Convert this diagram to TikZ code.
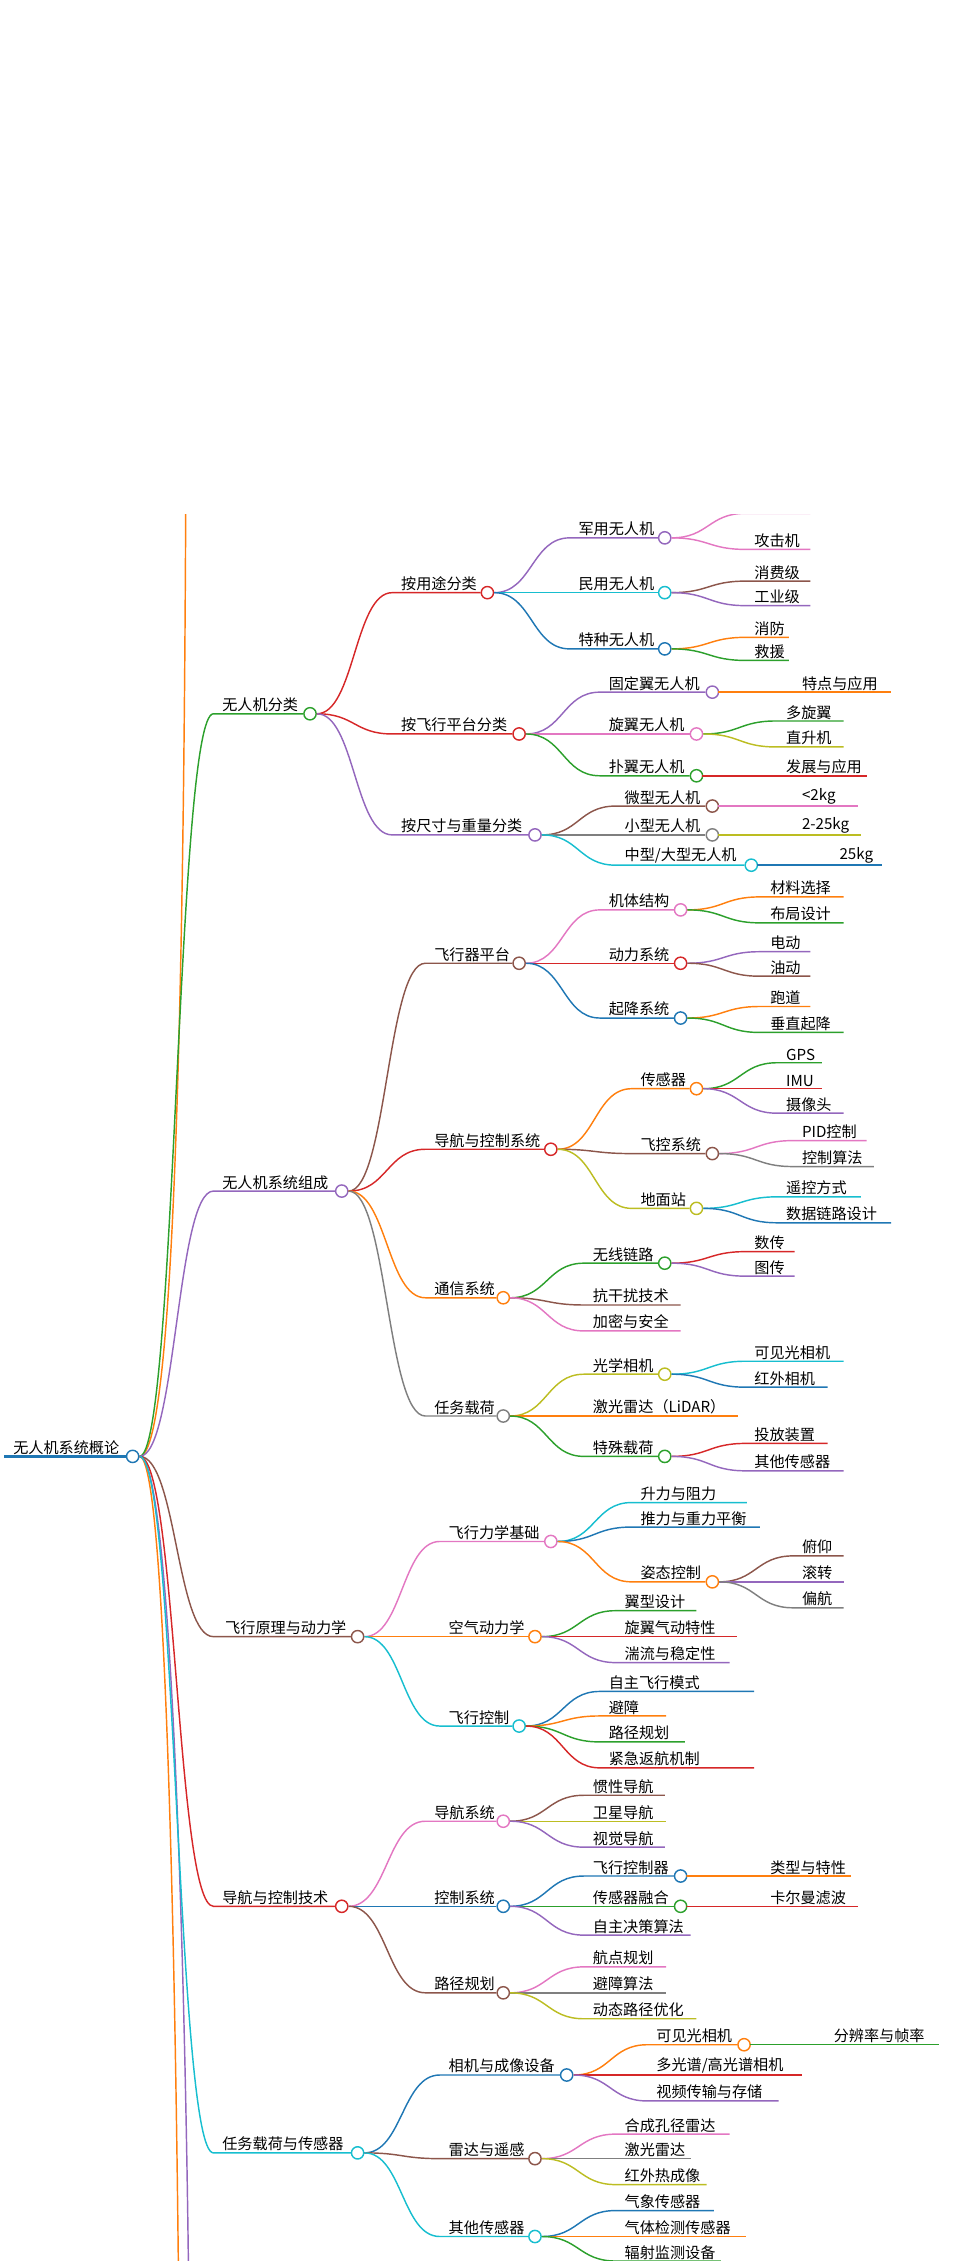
\documentclass[tikz,border=0pt]{standalone}
\usepackage{fontspec}
\setmainfont{Noto Sans CJK SC}
\usepackage{tikz}
\usetikzlibrary{positioning,calc}

\definecolor{cblue}{HTML}{1F77B4}
\definecolor{corange}{HTML}{FF7F0E}
\definecolor{cgreen}{HTML}{2CA02C}
\definecolor{cred}{HTML}{D62728}
\definecolor{cpurple}{HTML}{9467BD}
\definecolor{cbrown}{HTML}{8C564B}
\definecolor{cpink}{HTML}{E377C2}
\definecolor{cgray}{HTML}{7F7F7F}
\definecolor{colive}{HTML}{BCBD22}
\definecolor{ccyan}{HTML}{17BECF}

\tikzset{
  mmdot/.style={circle, draw=#1, fill=white, line width=1pt, minimum size=8.5pt, inner sep=0pt},
  mmedge/.style={draw=#1, line width=1pt},
  mmtext/.style={anchor=south west, inner sep=1pt, font=\fontsize{10.5}{12}\selectfont}
}

% name, parent, colour, line start, text x, line end, y, text
\newcommand\mmnode[8]{%
  \coordinate (#1-s) at (#4,-#7);
  \node[mmdot=#3] (#1) at (#6,-#7) {};
  \node[mmtext] (#1-t) at (#5,-#7) {#8};
  \draw[mmedge=#3] let \p1=(#2.east), \p2=(#1-s) in
    (\p1) .. controls ({(\x1+\x2)/2},\y1) and ({(\x1+\x2)/2},\y2) .. (\p2) -- (#1.west);
}
\newcommand\mmleaf[8]{%
  \coordinate (#1-s) at (#4,-#7);
  \coordinate (#1) at (#6,-#7);
  \node[mmtext] (#1-t) at (#5,-#7) {#8};
  \draw[mmedge=#3] let \p1=(#2.east), \p2=(#1-s) in
    (\p1) .. controls ({(\x1+\x2)/2},\y1) and ({(\x1+\x2)/2},\y2) .. (\p2) -- (#1);
}

\begin{document}
\begin{tikzpicture}[x=1pt, y=1pt]
  \useasboundingbox (0,0) rectangle (664,-1568);
  \clip (0,-357) rectangle (664,-1568);

  % root
  \coordinate (root-s) at (3,-1010);
  \node[mmdot=cblue] (root) at (92,-1010) {};
  \node[mmtext] (root-t) at (8,-1010) {无人机系统概论};
  \draw[mmedge=cblue, line width=2pt] (root-s) -- (root.west);

  % branches running out of the picture
  \draw[mmedge=corange] (root.east) .. controls (124,-1010) and (128,-600) .. (129,-300);
  \draw[mmedge=corange] (root.east) .. controls (116,-1010) and (122,-1400) .. (124,-1600);
  \draw[mmedge=cpurple] (root.east) .. controls (120,-1010) and (129,-1400) .. (131,-1600);

  % level 1
  \mmnode{cls}{root}{cgreen}{148}{153}{215}{495}{无人机分类}
  \mmnode{sys}{root}{cpurple}{148}{153}{237}{826}{无人机系统组成}
  \mmnode{phy}{root}{cbrown}{148}{155}{248}{1135}{飞行原理与动力学}
  \mmnode{nav}{root}{cred}{148}{153}{237}{1322}{导航与控制技术}
  \mmnode{pay}{root}{ccyan}{148}{153}{248}{1493}{任务载荷与传感器}

  % 无人机分类
  \mmnode{use}{cls}{cred}{272}{277}{338}{411}{按用途分类}
  \mmnode{plat}{cls}{cred}{272}{277}{360}{509}{按飞行平台分类}
  \mmnode{size}{cls}{cpurple}{272}{277}{371}{579}{按尺寸与重量分类}

  \mmnode{mil}{use}{cpurple}{395}{400}{461}{373}{军用无人机}
  \mmnode{civ}{use}{ccyan}{395}{400}{461}{411}{民用无人机}
  \mmnode{spec}{use}{cblue}{395}{400}{461}{450}{特种无人机}
  \mmleaf{mil1}{mil}{cpink}{517}{522}{562}{356}{侦察机}
  \mmleaf{mil2}{mil}{cpink}{517}{522}{562}{381}{攻击机}
  \mmleaf{civ1}{civ}{cbrown}{517}{522}{562}{403}{消费级}
  \mmleaf{civ2}{civ}{cpurple}{517}{522}{562}{420}{工业级}
  \mmleaf{spec1}{spec}{corange}{517}{522}{547}{442}{消防}
  \mmleaf{spec2}{spec}{cgreen}{517}{522}{547}{458}{救援}

  \mmnode{fix}{plat}{cpurple}{416}{421}{494}{480}{固定翼无人机}
  \mmnode{rot}{plat}{cpink}{416}{421}{483}{509}{旋翼无人机}
  \mmnode{flap}{plat}{cgreen}{416}{421}{483}{538}{扑翼无人机}
  \mmleaf{fix1}{fix}{corange}{498}{555}{618}{480}{特点与应用}
  \mmleaf{rot1}{rot}{cgreen}{538}{544}{585}{500}{多旋翼}
  \mmleaf{rot2}{rot}{colive}{538}{544}{585}{518}{直升机}
  \mmleaf{flap1}{flap}{cred}{487}{544}{601}{538}{发展与应用}

  \mmnode{micro}{size}{cbrown}{427}{432}{494}{559}{微型无人机}
  \mmnode{small}{size}{cgray}{427}{432}{494}{579}{小型无人机}
  \mmnode{big}{size}{ccyan}{427}{432}{521}{600}{中型/大型无人机}
  \mmleaf{micro1}{micro}{cpink}{498}{555}{595}{559}{<2kg}
  \mmleaf{small1}{small}{colive}{498}{555}{597}{579}{2-25kg}
  \mmleaf{big1}{big}{cblue}{525}{581}{612}{600}{25kg}

  % 无人机系统组成
  \mmnode{frame}{sys}{cbrown}{295}{300}{360}{668}{飞行器平台}
  \mmnode{nc}{sys}{cred}{295}{300}{382}{797}{导航与控制系统}
  \mmnode{com}{sys}{corange}{295}{300}{349}{900}{通信系统}
  \mmnode{load}{sys}{cgray}{295}{300}{349}{982}{任务载荷}

  \mmnode{body}{frame}{cpink}{416}{421}{472}{631}{机体结构}
  \mmnode{power}{frame}{cred}{416}{421}{472}{668}{动力系统}
  \mmnode{land}{frame}{cblue}{416}{421}{472}{706}{起降系统}
  \mmleaf{body1}{body}{corange}{527}{533}{585}{622}{材料选择}
  \mmleaf{body2}{body}{cgreen}{527}{533}{585}{640}{布局设计}
  \mmleaf{power1}{power}{cpurple}{527}{533}{562}{660}{电动}
  \mmleaf{power2}{power}{cbrown}{527}{533}{562}{677}{油动}
  \mmleaf{land1}{land}{corange}{527}{533}{562}{698}{跑道}
  \mmleaf{land2}{land}{cgreen}{527}{533}{585}{716}{垂直起降}

  \mmnode{sen}{nc}{corange}{438}{443}{483}{755}{传感器}
  \mmnode{fc}{nc}{cbrown}{438}{443}{494}{800}{飞控系统}
  \mmnode{gs}{nc}{colive}{438}{443}{483}{838}{地面站}
  \mmleaf{sen1}{sen}{cgreen}{539}{544}{570}{737}{GPS}
  \mmleaf{sen2}{sen}{cred}{539}{544}{570}{755}{IMU}
  \mmleaf{sen3}{sen}{cpurple}{539}{544}{585}{772}{摄像头}
  \mmleaf{fc1}{fc}{cpink}{550}{555}{601}{791}{PID控制}
  \mmleaf{fc2}{fc}{cgray}{550}{555}{606}{809}{控制算法}
  \mmleaf{gs1}{gs}{ccyan}{539}{544}{597}{830}{遥控方式}
  \mmleaf{gs2}{gs}{cblue}{539}{544}{618}{848}{数据链路设计}

  \mmnode{wl}{com}{cgreen}{405}{410}{461}{876}{无线链路}
  \mmleaf{com2}{com}{cbrown}{405}{410}{472}{905}{抗干扰技术}
  \mmleaf{com3}{com}{cpink}{405}{410}{472}{923}{加密与安全}
  \mmleaf{wl1}{wl}{cred}{517}{522}{551}{868}{数传}
  \mmleaf{wl2}{wl}{cpurple}{517}{522}{551}{885}{图传}

  \mmnode{opt}{load}{colive}{405}{410}{461}{953}{光学相机}
  \mmleaf{lidar}{load}{corange}{405}{410}{512}{982}{激光雷达（LiDAR）}
  \mmnode{spl}{load}{cgreen}{405}{410}{461}{1010}{特殊载荷}
  \mmleaf{opt1}{opt}{ccyan}{517}{522}{585}{944}{可见光相机}
  \mmleaf{opt2}{opt}{cblue}{517}{522}{574}{962}{红外相机}
  \mmleaf{spl1}{spl}{cred}{517}{522}{574}{1001}{投放装置}
  \mmleaf{spl2}{spl}{cpurple}{517}{522}{585}{1020}{其他传感器}

  % 飞行原理与动力学
  \mmnode{mech}{phy}{cpink}{305}{310}{382}{1069}{飞行力学基础}
  \mmnode{aero}{phy}{corange}{305}{310}{371}{1135}{空气动力学}
  \mmnode{ctl}{phy}{ccyan}{305}{310}{360}{1197}{飞行控制}

  \mmleaf{mech1}{mech}{ccyan}{438}{443}{518}{1042}{升力与阻力}
  \mmleaf{mech2}{mech}{cblue}{438}{443}{527}{1059}{推力与重力平衡}
  \mmnode{att}{mech}{corange}{438}{443}{494}{1097}{姿态控制}
  \mmleaf{att1}{att}{cbrown}{550}{555}{585}{1079}{俯仰}
  \mmleaf{att2}{att}{cpurple}{550}{555}{585}{1097}{滚转}
  \mmleaf{att3}{att}{cgray}{550}{555}{585}{1115}{偏航}

  \mmleaf{aero1}{aero}{cgreen}{427}{432}{483}{1117}{翼型设计}
  \mmleaf{aero2}{aero}{cred}{427}{432}{511}{1135}{旋翼气动特性}
  \mmleaf{aero3}{aero}{cpurple}{427}{432}{506}{1153}{湍流与稳定性}

  \mmleaf{ctl1}{ctl}{cblue}{416}{421}{523}{1173}{自主飞行模式}
  \mmleaf{ctl2}{ctl}{corange}{416}{421}{462}{1190}{避障}
  \mmleaf{ctl3}{ctl}{cgreen}{416}{421}{475}{1208}{路径规划}
  \mmleaf{ctl4}{ctl}{cred}{416}{421}{523}{1226}{紧急返航机制}

  % 导航与控制技术
  \mmnode{navs}{nav}{cpink}{295}{300}{349}{1263}{导航系统}
  \mmnode{ctrl}{nav}{cblue}{295}{300}{349}{1322}{控制系统}
  \mmnode{path}{nav}{cbrown}{295}{300}{349}{1382}{路径规划}

  \mmleaf{navs1}{navs}{cbrown}{405}{410}{461}{1245}{惯性导航}
  \mmleaf{navs2}{navs}{colive}{405}{410}{462}{1263}{卫星导航}
  \mmleaf{navs3}{navs}{cpurple}{405}{410}{461}{1281}{视觉导航}

  \mmnode{fctl}{ctrl}{cblue}{405}{410}{472}{1301}{飞行控制器}
  \mmnode{fus}{ctrl}{cgreen}{405}{410}{472}{1322}{传感器融合}
  \mmleaf{ctrl3}{ctrl}{cpurple}{405}{410}{479}{1342}{自主决策算法}
  \mmleaf{fctl1}{fctl}{corange}{476}{533}{590}{1301}{类型与特性}
  \mmleaf{fus1}{fus}{cred}{476}{533}{595}{1322}{卡尔曼滤波}

  \mmleaf{path1}{path}{cpink}{405}{410}{462}{1364}{航点规划}
  \mmleaf{path2}{path}{cgray}{405}{410}{462}{1382}{避障算法}
  \mmleaf{path3}{path}{colive}{405}{410}{483}{1400}{动态路径优化}

  % 任务载荷与传感器
  \mmnode{cam}{pay}{cblue}{305}{310}{393}{1439}{相机与成像设备}
  \mmnode{rad}{pay}{cbrown}{305}{310}{371}{1497}{雷达与遥感}
  \mmnode{oth}{pay}{ccyan}{305}{310}{371}{1551}{其他传感器}

  \mmnode{vis}{cam}{corange}{449}{454}{516}{1418}{可见光相机}
  \mmleaf{cam2}{cam}{cred}{449}{454}{556}{1439}{多光谱/高光谱相机}
  \mmleaf{cam3}{cam}{cpurple}{449}{454}{540}{1457}{视频传输与存储}
  \mmleaf{vis1}{vis}{cgreen}{520}{577}{651}{1418}{分辨率与帧率}

  \mmleaf{rad1}{rad}{cpink}{427}{432}{506}{1480}{合成孔径雷达}
  \mmleaf{rad2}{rad}{cgray}{427}{432}{479}{1497}{激光雷达}
  \mmleaf{rad3}{rad}{colive}{427}{432}{490}{1515}{红外热成像}

  \mmleaf{oth1}{oth}{cblue}{427}{432}{495}{1533}{气象传感器}
  \mmleaf{oth2}{oth}{corange}{427}{432}{517}{1551}{气体检测传感器}
  \mmleaf{oth3}{oth}{cgreen}{427}{432}{500}{1568}{辐射监测设备}
\end{tikzpicture}
\end{document}
